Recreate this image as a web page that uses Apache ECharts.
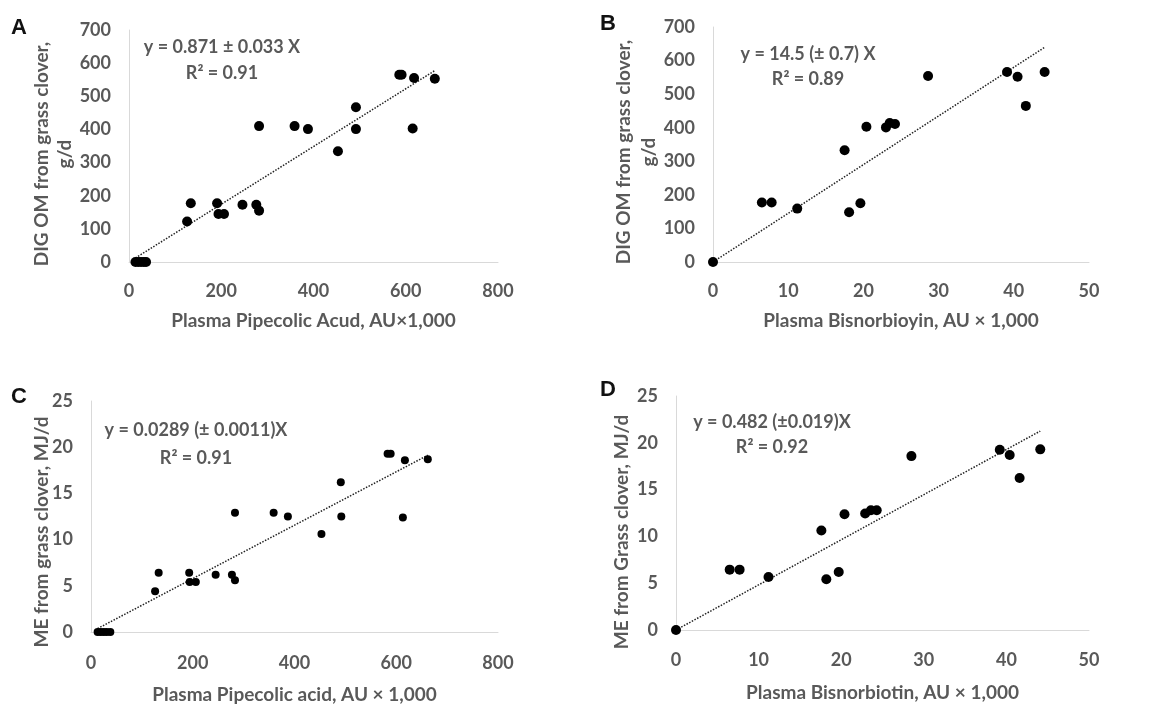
<!DOCTYPE html>
<html>
<head>
<meta charset="utf-8">
<script src="https://cdn.jsdelivr.net/npm/echarts@6/dist/echarts.min.js"></script>
<style>
  html, body { margin: 0; padding: 0; background: #fff; }
  #main { width: 1161px; height: 705px; }
</style>
</head>
<body>
<div id="main"></div>
<script>
// panel A: pipecolic acid vs DIG OM
const aX = [14, 20, 26, 32, 37, 126, 134, 191, 194, 206, 246, 276, 282, 282, 359, 388, 453, 492, 492, 586, 591, 618, 615, 663];
const aY = [0, 0, 0, 0, 0, 122, 177, 177, 145, 145, 173, 173, 155, 410, 410, 401, 334, 467, 401, 565, 565, 555, 403, 553];
// panel B: bisnorbiotin vs DIG OM
const bX = [0, 6.5, 7.8, 11.2, 17.5, 18.1, 19.6, 20.4, 23.0, 23.5, 24.2, 28.6, 39.1, 40.5, 41.6, 44.1];
const bY = [0, 177, 177, 159, 333, 148, 175, 403, 401, 414, 411, 554, 566, 552, 465, 566];
// panel C: pipecolic acid vs ME
const cX = [13, 19, 25, 31, 38, 126, 133, 193, 194, 206, 245, 277, 283, 283, 359, 387, 453, 491, 492, 583, 589, 617, 613, 662];
const cY = [0, 0, 0, 0, 0, 4.4, 6.4, 6.4, 5.4, 5.4, 6.2, 6.2, 5.6, 12.9, 12.9, 12.5, 10.6, 16.2, 12.5, 19.3, 19.3, 18.6, 12.4, 18.7];
// panel D: bisnorbiotin vs ME
const dX = [0, 6.5, 7.7, 11.2, 17.6, 18.2, 19.7, 20.4, 22.9, 23.6, 24.3, 28.5, 39.2, 40.4, 41.6, 44.1];
const dY = [0, 6.45, 6.45, 5.67, 10.63, 5.42, 6.2, 12.37, 12.45, 12.8, 12.8, 18.58, 19.26, 18.69, 16.23, 19.3];

const slopes = [0.871, 14.5, 0.0289, 0.482];
const letters = ['A', 'B', 'C', 'D'];
const equations = [
  'y = 0.871 ± 0.033 X\nR² = 0.91',
  'y = 14.5 (± 0.7) X\nR² = 0.89',
  'y = 0.0289 (± 0.0011)X\nR² = 0.91',
  'y = 0.482 (±0.019)X\nR² = 0.92'
];
const xNames = [
  'Plasma Pipecolic Acud, AU×1,000',
  'Plasma Bisnorbioyin, AU × 1,000',
  'Plasma Pipecolic acid, AU × 1,000',
  'Plasma Bisnorbiotin, AU × 1,000'
];
const yNames = [
  'DIG OM from grass clover,\ng/d',
  'DIG OM from grass clover,\ng/d',
  'ME from grass clover, MJ/d',
  'ME from Grass clover, MJ/d'
];
const xMax = [800, 50, 800, 50];
const xStep = [200, 10, 200, 10];
const yMax = [700, 700, 25, 25];
const yStep = [100, 100, 5, 5];

const panels = [[aX, aY], [bX, bY], [cX, cY], [dX, dY]];

// layout of each panel
const grids = [
  { left: 129, top: 30, width: 369, height: 232 },
  { left: 713, top: 27, width: 376, height: 235 },
  { left: 91, top: 401, width: 407, height: 231 },
  { left: 676, top: 396, width: 413, height: 234 }
];
const xNameGap = [49, 49, 53, 53];
const xLabelMargin = [20, 20, 22, 21];
const yNamePos = [[53, 154], [636, 152], [42, 532], [622, 532]];
const yNameLine = [23, 25, 23, 23];
const symbolSizes = [10, 10, 8, 10];
const eqPos = [[222, 34], [808, 42], [196, 416], [772, 410]];
const eqLine = [26, 25, 28, 25];
const letterPos = [[11, 17], [600, 13], [11, 386], [600, 379]];

const gray = '#595959';
const font = 'Lato, "Open Sans", sans-serif';
const labelStyle = { color: gray, fontFamily: font, fontWeight: 'bold', fontSize: 18 };
const nameStyle = { color: gray, fontFamily: font, fontWeight: 'bold', fontSize: 19 };
const axisLine = { show: true, lineStyle: { color: '#d9d9d9', width: 1 } };

const xAxes = [], yAxes = [], series = [], graphics = [];

panels.forEach((p, i) => {
  const xs = p[0], ys = p[1];
  xAxes.push({
    gridIndex: i, type: 'value', min: 0, max: xMax[i], interval: xStep[i],
    axisLine: axisLine, axisTick: { show: false }, splitLine: { show: false },
    axisLabel: Object.assign({ margin: xLabelMargin[i] }, labelStyle),
    name: xNames[i], nameLocation: 'middle', nameGap: xNameGap[i],
    nameTextStyle: nameStyle
  });
  yAxes.push({
    gridIndex: i, type: 'value', min: 0, max: yMax[i], interval: yStep[i],
    axisLine: axisLine, axisTick: { show: false }, splitLine: { show: false },
    axisLabel: Object.assign({ margin: 18 }, labelStyle)
  });
  series.push({
    type: 'scatter', xAxisIndex: i, yAxisIndex: i,
    data: xs.map((x, k) => [x, ys[k]]),
    symbolSize: symbolSizes[i],
    itemStyle: { color: '#000', opacity: 1 },
    z: 3
  });
  // trend line through origin, from min x to max x
  const lo = Math.min(...xs), hi = Math.max(...xs);
  series.push({
    type: 'line', xAxisIndex: i, yAxisIndex: i,
    data: [[lo, lo * slopes[i]], [hi, hi * slopes[i]]],
    symbol: 'none', silent: true,
    lineStyle: { color: '#222', width: 1.5, type: 'dotted' },
    z: 2
  });
  // y axis title (rotated)
  graphics.push({
    type: 'text', x: yNamePos[i][0], y: yNamePos[i][1], rotation: Math.PI / 2,
    style: {
      text: yNames[i], align: 'center', verticalAlign: 'middle',
      fill: gray, font: 'bold 19px ' + font, lineHeight: yNameLine[i]
    }
  });
  graphics.push({
    type: 'text', x: eqPos[i][0], y: eqPos[i][1],
    style: {
      text: equations[i], align: 'center', verticalAlign: 'top',
      fill: gray, font: 'bold 18px ' + font, lineHeight: eqLine[i]
    }
  });
  graphics.push({
    type: 'text', left: letterPos[i][0], top: letterPos[i][1],
    style: { text: letters[i], fill: '#111', font: 'bold 22px "Liberation Sans", Arial, sans-serif' }
  });
});

const chart = echarts.init(document.getElementById('main'));
chart.setOption({
  backgroundColor: '#fff',
  animation: false,
  grid: grids,
  xAxis: xAxes,
  yAxis: yAxes,
  series: series,
  graphic: graphics
});
</script>
</body>
</html>
